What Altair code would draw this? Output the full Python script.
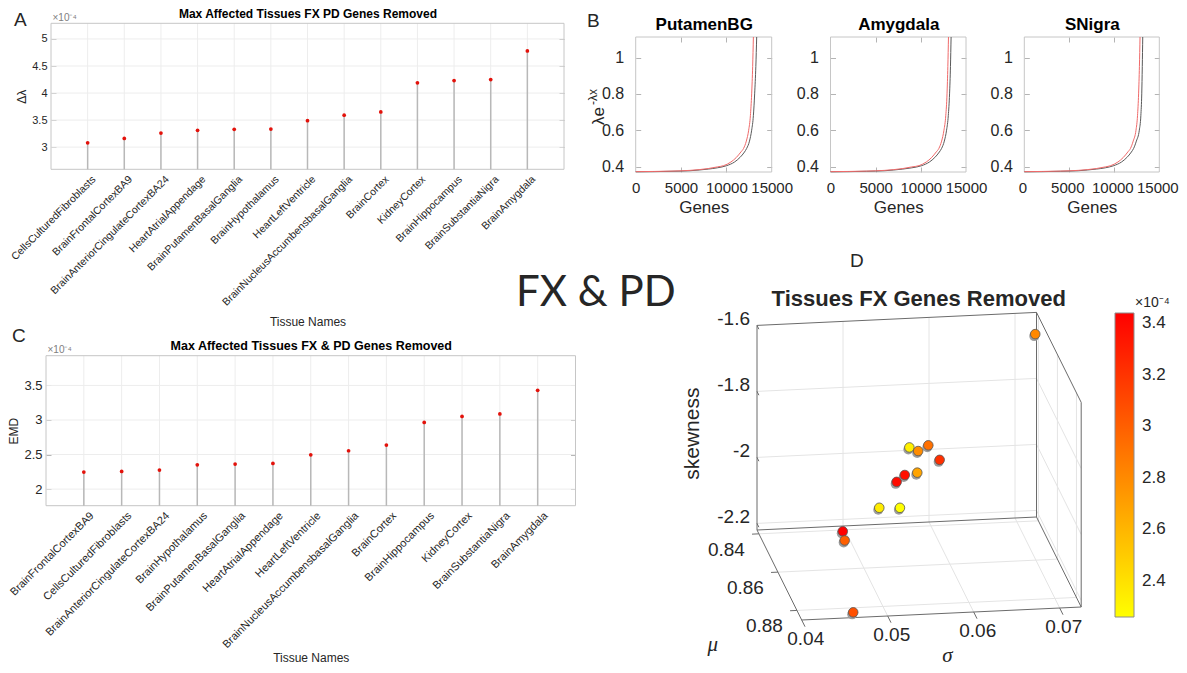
import altair as alt
import pandas as pd

W, H = 1171, 657
FONT = "Liberation Sans"
TXT = "#262626"

# ---------------- Panel A: max affected tissues, FX PD genes removed ----------------
tissues_a = ["CellsCulturedFibroblasts", "BrainFrontalCortexBA9", "BrainAnteriorCingulateCortexBA24",
             "HeartAtrialAppendage", "BrainPutamenBasalGanglia", "BrainHypothalamus", "HeartLeftVentricle",
             "BrainNucleusAccumbensbasalGanglia", "BrainCortex", "KidneyCortex", "BrainHippocampus",
             "BrainSubstantiaNigra", "BrainAmygdala"]
dlambda_a = [3.08, 3.16, 3.26, 3.31, 3.33, 3.335, 3.49, 3.59, 3.65, 4.19, 4.23, 4.25, 4.78]
a_yticks = [3, 3.5, 4, 4.5, 5]
a_ylim = [2.59, 5.29]

# ---------------- Panel C: max affected tissues, FX & PD genes removed ----------------
tissues_c = ["BrainFrontalCortexBA9", "CellsCulturedFibroblasts", "BrainAnteriorCingulateCortexBA24",
             "BrainHypothalamus", "BrainPutamenBasalGanglia", "HeartAtrialAppendage", "HeartLeftVentricle",
             "BrainNucleusAccumbensbasalGanglia", "BrainCortex", "BrainHippocampus", "KidneyCortex",
             "BrainSubstantiaNigra", "BrainAmygdala"]
emd_c = [2.246, 2.255, 2.275, 2.352, 2.362, 2.371, 2.497, 2.555, 2.638, 2.964, 3.052, 3.087, 3.429]
c_yticks = [2, 2.5, 3, 3.5]
c_ylim = [1.76, 3.93]

# ---------------- Panel B: fitted curves per tissue ----------------
b_names = ["PutamenBG", "Amygdala", "SNigra"]
b_xticks = [0, 5000, 10000, 15000]
b_yticks = [0.4, 0.6, 0.8, 1]
b_xlim = [0, 15000]
b_ylim = [0.37, 1.113]
curve_y_red = [0.372, 0.373, 0.375, 0.379, 0.383, 0.389, 0.398, 0.405, 0.425, 0.45, 0.48, 0.50, 0.54, 0.60, 0.68, 0.80, 0.95, 1.113]
curve_y_blk = [0.371, 0.372, 0.374, 0.377, 0.381, 0.386, 0.393, 0.405, 0.425, 0.45, 0.48, 0.50, 0.54, 0.60, 0.68, 0.80, 0.95, 1.113]
put_red_x = [0, 2000, 4000, 6000, 7000, 8000, 9000, 9700, 10500, 11100, 11600, 11900, 12200, 12460, 12650, 12790, 12900, 12980]
put_blk_x = [0, 2000, 4000, 6000, 7000, 8000, 9000, 10040, 10900, 11500, 12000, 12240, 12550, 12790, 12980, 13120, 13250, 13345]
amy_red_x = [0, 2000, 4000, 6000, 7000, 8000, 9000, 9800, 10600, 11200, 11700, 12000, 12300, 12560, 12760, 12900, 12990, 13060]
amy_blk_x = [0, 2000, 4000, 6000, 7000, 8000, 9000, 10100, 10950, 11550, 12050, 12300, 12600, 12850, 13040, 13180, 13280, 13350]
sni_red_x = [0, 2000, 4000, 6000, 7000, 8000, 9000, 9600, 10400, 11000, 11500, 11800, 12100, 12410, 12580, 12700, 12790, 12860]
sni_blk_x = [0, 2000, 4000, 6000, 7000, 8000, 9000, 9950, 10800, 11400, 11900, 12150, 12450, 12780, 12950, 13050, 13110, 13160]

# ---------------- Panel D: tissues FX genes removed (3-D scatter) ----------------
sigma_d = [0.0721, 0.0571, 0.0578, 0.0595, 0.0601, 0.0576, 0.0564, 0.0552, 0.0537, 0.0561, 0.0493, 0.0490, 0.0461]
mu_d = [0.8403, 0.8436, 0.8465, 0.8418, 0.8483, 0.8474, 0.8451, 0.8474, 0.8427, 0.8427, 0.8441, 0.8488, 0.8840]
skew_d = [-1.652, -1.958, -1.953, -1.965, -1.972, -2.013, -2.032, -2.038, -2.142, -2.145, -2.200, -2.200, -2.210]
emd_d = [2.81, 2.33, 2.79, 2.92, 3.22, 2.68, 3.37, 3.39, 2.35, 2.26, 3.44, 3.00, 3.07]
sig_ticks = [0.04, 0.05, 0.06, 0.07]
mu_ticks = [0.84, 0.86, 0.88]
skew_ticks = [-2.2, -2.0, -1.8, -1.6]
sig_lim = [0.04, 0.0725]
mu_lim = [0.838, 0.885]
skew_lim = [-2.22, -1.6]
cbar_lim = [2.26, 3.44]
cbar_ticks = [2.4, 2.6, 2.8, 3.0, 3.2, 3.4]

# ---------------- layout (plot-area pixel ranges) ----------------
A_X, A_Y = [43, 556], [161.3, 15.3]
C_X, C_Y = [38, 567.5], [497.7, 347.7]
B_X = [[627.7, 763.7], [822.5, 958.0], [1016.3, 1151.3]]
B_Y = [164, 29]
B_LABEL_SHIFT = [0, 0, -2]


def sc(dom, rng):
    return alt.Scale(domain=dom, range=rng, nice=False, zero=False)


def tick_axis(orient, offset, vals, color, size=5):
    if vals is None:
        return None
    return alt.Axis(orient=orient, offset=offset, values=vals, labels=False, domain=False, grid=False,
                    ticks=True, tickSize=size, tickColor=color, tickWidth=1, title=None)


def inner_ticks(box, xs, ys, xr, yr, xvals, yvals, color):
    """MATLAB-style inward ticks on all four sides, drawn by axes placed on the opposite edges."""
    l1 = alt.Chart(box).mark_rect(opacity=0).encode(
        x=alt.X("x0:Q", scale=xs, axis=tick_axis("bottom", yr[1] - H, xvals, color)), x2="x1:Q",
        y=alt.Y("y0:Q", scale=ys, axis=tick_axis("left", -xr[1], yvals, color)), y2="y1:Q")
    l2 = alt.Chart(box).mark_rect(opacity=0).encode(
        x=alt.X("x0:Q", scale=xs, axis=tick_axis("top", -yr[0], xvals, color)), x2="x1:Q",
        y=alt.Y("y0:Q", scale=ys, axis=tick_axis("right", xr[0] - W, yvals, color)), y2="y1:Q")
    return [l1, l2]


def stem_panel(tissues, vals, yticks, ylim, xr, yr, title, ytitle, fs_lab, lab_off, fs_tick, fs_title, xt_pad):
    n = len(tissues)
    xdom = [0, n + 1]
    xs, ys = sc(xdom, xr), sc(ylim, yr)
    idx = list(range(1, n + 1))
    df = pd.DataFrame({"idx": idx, "tissue": tissues, "val": vals, "lo": ylim[0], "hi": ylim[1]})
    hg = pd.DataFrame({"y": yticks, "x0": xdom[0], "x1": xdom[1]})
    box = pd.DataFrame({"x0": [xdom[0]], "x1": [xdom[1]], "y0": [ylim[0]], "y1": [ylim[1]]})
    names = "[" + ",".join("'%s'" % t for t in tissues) + "]"
    vgrid = alt.Chart(df).mark_rule(color="#ededed", strokeWidth=1).encode(
        x=alt.X("idx:Q", scale=xs, axis=None), y=alt.Y("lo:Q", scale=ys, axis=None), y2="hi:Q")
    hgrid = alt.Chart(hg).mark_rule(color="#ededed", strokeWidth=1).encode(
        x=alt.X("x0:Q", scale=xs, axis=None), x2="x1:Q", y=alt.Y("y:Q", scale=ys, axis=None))
    frame = alt.Chart(box).mark_rect(fillOpacity=0, stroke="#c6c6c6", strokeWidth=1).encode(
        x=alt.X("x0:Q", scale=xs, axis=alt.Axis(
            orient="top", offset=-yr[1], labels=False, ticks=False, domain=False, grid=False,
            title=title, titleFontSize=fs_title, titleFontWeight="bold", titleColor="black",
            titleFont=FONT, titlePadding=3)),
        x2="x1:Q",
        y=alt.Y("y0:Q", scale=ys, axis=alt.Axis(
            orient="left", offset=-xr[0], labels=False, ticks=False, domain=False, grid=False,
            title="×10⁻⁴", titleAngle=0, titleAlign="left", titleBaseline="alphabetic",
            titleX=1, titleY=yr[1] - 3, titleFontSize=10, titleFontWeight="normal",
            titleColor="#808080", titleFont=FONT)),
        y2="y1:Q")
    stems = alt.Chart(df).mark_rule(color="#b8b8b8", strokeWidth=1.5).encode(
        x=alt.X("idx:Q", scale=xs, axis=None), y=alt.Y("lo:Q", scale=ys, axis=None), y2="val:Q")
    dots = alt.Chart(df).mark_circle(color="#e3120b", size=14, opacity=1).encode(
        x=alt.X("idx:Q", scale=xs, axis=alt.Axis(
            orient="bottom", offset=yr[0] - H, values=idx, labelExpr=names + "[datum.value - 1]",
            labelAngle=-45, labelAlign="right", labelBaseline="middle", labelFontSize=fs_lab,
            labelFont=FONT, labelColor=TXT, labelPadding=8, labelOffset=lab_off, labelOverlap=False,
            labelFlush=False, labelLimit=1000, ticks=False, domain=False, grid=False,
            title="Tissue Names", titleFontSize=12, titleFontWeight="normal", titleColor=TXT,
            titleFont=FONT, titlePadding=xt_pad)),
        y=alt.Y("val:Q", scale=ys, axis=alt.Axis(
            orient="left", offset=-xr[0], values=yticks, format="~g", labelFontSize=fs_tick,
            labelFont=FONT, labelColor=TXT, labelPadding=4, ticks=False, domain=False, grid=False,
            title=ytitle, titleFontSize=12, titleFontWeight="normal", titleColor=TXT,
            titleFont=FONT, titlePadding=3)))
    ticks = inner_ticks(box, xs, ys, xr, yr, None, yticks, "#b4b4b4")
    return [vgrid, hgrid, frame] + ticks + [stems, dots]


def b_panel(name, rx, ry, bx, by, xr, yr, lab_shift):
    xs, ys = sc(b_xlim, xr), sc(b_ylim, yr)
    box = pd.DataFrame({"x0": [b_xlim[0]], "x1": [b_xlim[1]], "y0": [b_ylim[0]], "y1": [b_ylim[1]]})
    frame = alt.Chart(box).mark_rect(fillOpacity=0, stroke="#c6c6c6", strokeWidth=1).encode(
        x=alt.X("x0:Q", scale=xs, axis=alt.Axis(
            orient="top", offset=-yr[1], labels=False, ticks=False, domain=False, grid=False,
            title=name, titleFontSize=17, titleFontWeight="bold", titleColor="black",
            titleFont=FONT, titlePadding=4)),
        x2="x1:Q", y=alt.Y("y0:Q", scale=ys, axis=None), y2="y1:Q")
    blk = alt.Chart(pd.DataFrame({"g": bx, "f": by})).mark_line(
        color="#5a5a5a", strokeWidth=1, interpolate="monotone").encode(
        x=alt.X("g:Q", scale=xs, axis=alt.Axis(
            orient="bottom", offset=yr[0] - H, values=b_xticks, format="d", labelFontSize=15,
            labelFont=FONT, labelColor=TXT, labelPadding=8, labelOverlap=False, labelFlush=False,
            labelOffset=lab_shift, ticks=False, domain=False, grid=False, title="Genes",
            titleFontSize=17, titleFontWeight="normal", titleColor=TXT, titleFont=FONT,
            titlePadding=4)),
        y=alt.Y("f:Q", scale=ys, axis=alt.Axis(
            orient="left", offset=-xr[0], values=b_yticks, format="~g", labelFontSize=16,
            labelFont=FONT, labelColor=TXT, labelPadding=12, labelOverlap=False, ticks=False,
            domain=False, grid=False, title=None)))
    red = alt.Chart(pd.DataFrame({"g": rx, "f": ry})).mark_line(
        color="#f06a6a", strokeWidth=1, interpolate="monotone").encode(
        x=alt.X("g:Q", scale=xs, axis=None), y=alt.Y("f:Q", scale=ys, axis=None))
    ticks = inner_ticks(box, xs, ys, xr, yr, b_xticks[1:-1], b_yticks, "#b4b4b4")
    return [frame] + ticks + [blk, red]


# ---------------- 3-D projection for panel D ----------------
def proj(s, m, k):
    a = (s - sig_lim[0]) / (sig_lim[1] - sig_lim[0])
    b = (m - mu_lim[0]) / (mu_lim[1] - mu_lim[0])
    c = (k - skew_lim[0]) / (skew_lim[1] - skew_lim[0])
    return a * 279.5 + b * 44.7, a * 13 - b * 90 + c * 204.6


D_XS = sc([0, 400], [749, 1149])
D_YS = sc([0, 400], [522, 122])


def seg_df(pairs):
    rows = []
    for p, q in pairs:
        u1, v1 = proj(*p)
        u2, v2 = proj(*q)
        rows.append({"u1": u1, "v1": v1, "u2": u2, "v2": v2})
    return pd.DataFrame(rows)


def seg_layer(pairs, color, width):
    return alt.Chart(seg_df(pairs)).mark_rule(color=color, strokeWidth=width).encode(
        x=alt.X("u1:Q", scale=D_XS, axis=None), y=alt.Y("v1:Q", scale=D_YS, axis=None),
        x2="u2:Q", y2="v2:Q")


S0, S1 = sig_lim
M0, M1 = mu_lim
K0, K1 = skew_lim
grid_pairs = []
for s in sig_ticks[1:]:
    grid_pairs.append(((s, M0, K0), (s, M0, K1)))
    grid_pairs.append(((s, M0, K0), (s, M1, K0)))
for k in skew_ticks[:-1]:
    grid_pairs.append(((S0, M0, k), (S1, M0, k)))
    grid_pairs.append(((S1, M0, k), (S1, M1, k)))
for m in mu_ticks:
    grid_pairs.append(((S0, m, K0), (S1, m, K0)))
    grid_pairs.append(((S1, m, K0), (S1, m, K1)))
box_pairs = [((S0, M0, K0), (S1, M0, K0)), ((S0, M0, K1), (S1, M0, K1)),
             ((S0, M0, K0), (S0, M0, K1)), ((S1, M0, K0), (S1, M0, K1)),
             ((S0, M0, K0), (S0, M1, K0)), ((S0, M1, K0), (S1, M1, K0)),
             ((S1, M0, K0), (S1, M1, K0)), ((S1, M0, K1), (S1, M1, K1)),
             ((S1, M1, K0), (S1, M1, K1))]
tick_pairs = ([((s, M1, K0), (s, M1 + 0.0035, K0)) for s in sig_ticks] +
              [((S0, m, K0), (S0 - 0.0008, m, K0)) for m in mu_ticks] +
              [((S0, M0, k), (S0, M0 + 0.002, k)) for k in skew_ticks])


def label_layer(points, texts, dx, dy, align, size, angle=0, style="normal", font=FONT, weight="normal"):
    rows = []
    for p, t in zip(points, texts):
        u, v = proj(*p)
        rows.append({"u": u, "v": v, "t": t})
    return alt.Chart(pd.DataFrame(rows)).mark_text(
        dx=dx, dy=dy, align=align, baseline="middle", fontSize=size, font=font, color=TXT,
        angle=angle, fontStyle=style, fontWeight=weight).encode(
        x=alt.X("u:Q", scale=D_XS, axis=None), y=alt.Y("v:Q", scale=D_YS, axis=None), text="t:N")


pts = []
for s, m, k, e in zip(sigma_d, mu_d, skew_d, emd_d):
    u, v = proj(s, m, k)
    pts.append({"sigma": s, "mu": m, "skew": k, "emd": e, "u": u, "v": v})
pts = pd.DataFrame(pts)

d_layers = [
    seg_layer(grid_pairs, "#e4e4e4", 1),
    seg_layer(box_pairs, "#6b6b6b", 1),
    seg_layer(tick_pairs, "#6b6b6b", 1),
    label_layer([(s, M1, K0) for s in sig_ticks], ["%.2f" % s for s in sig_ticks], 4, 19, "center", 19),
    label_layer([(S0, m, K0) for m in mu_ticks], ["%.2f" % m for m in mu_ticks], -14, 16, "right", 19),
    label_layer([(S0, M0, k) for k in skew_ticks], ["%g" % k for k in skew_ticks], -7, -6, "right", 19),
    # rotated text: dx runs along the (upward) reading direction, dy points right on screen
    label_layer([(S0, M0, (K0 + K1) / 2)], ["skewness"], -6, -64, "center", 21, angle=270),
    label_layer([(S0, M1, K0)], ["μ"], -89, 25, "center", 21, style="italic", font="Liberation Serif"),
    label_layer([((S0 + S1) / 2, M1, K0)], ["σ"], 6, 42, "center", 21, style="italic", font="Liberation Serif"),
    label_layer([((S0 + S1) / 2, M0, K1)], ["Tissues FX Genes Removed"], 22, -20, "center", 22, weight="bold"),
    alt.Chart(pts).mark_circle(size=100, color="#9d9d9d", opacity=1, xOffset=-1, yOffset=2).encode(
        x=alt.X("u:Q", scale=D_XS, axis=None), y=alt.Y("v:Q", scale=D_YS, axis=None)),
    alt.Chart(pts).mark_circle(size=92, opacity=1, stroke="#555555", strokeWidth=0.8).encode(
        x=alt.X("u:Q", scale=D_XS, axis=None), y=alt.Y("v:Q", scale=D_YS, axis=None),
        color=alt.Color("emd:Q", scale=alt.Scale(domain=cbar_lim, range=["#ffff00", "#ff0000"], interpolate="rgb"),
                        legend=alt.Legend(orient="none", legendX=1107, legendY=305, direction="vertical",
                                          gradientLength=304, gradientThickness=19, title=None,
                                          values=cbar_ticks, format="~g", labelFontSize=17, labelFont=FONT,
                                          labelColor=TXT, labelOffset=8, labelOverlap=False, padding=0,
                                          gradientStrokeColor="#8c8c8c", gradientStrokeWidth=1)),
        tooltip=["sigma:Q", "mu:Q", "skew:Q", "emd:Q"]),
]


def note(txt, x, y, size, font=FONT, align="left", angle=0, color=TXT, weight="normal"):
    return alt.Chart(pd.DataFrame({"t": [txt]})).mark_text(
        align=align, baseline="alphabetic", fontSize=size, font=font, color=color, angle=angle,
        fontWeight=weight).encode(x=alt.value(x), y=alt.value(y), text="t:N")


notes = [
    note("A", 6, 18, 19), note("B", 579, 18.5, 19), note("C", 4, 334, 19), note("D", 842, 259, 19),
    note("FX & PD", 508, 298, 42, font="Lato"),
    note("λe", 596, 117, 17, angle=270),
    note("-λx", 589, 97, 12, angle=270),
    note("×10⁻⁴", 1127, 299, 14),
]

layers = []
layers += stem_panel(tissues_a, dlambda_a, a_yticks, a_ylim, A_X, A_Y,
                     "Max Affected Tissues FX PD Genes Removed", "Δλ", 10.5, 6, 11, 12, 9)
layers += stem_panel(tissues_c, emd_c, c_yticks, c_ylim, C_X, C_Y,
                     "Max Affected Tissues FX & PD Genes Removed", "EMD", 11, 8, 13, 12.5, 3)
b_curves = [(put_red_x, put_blk_x), (amy_red_x, amy_blk_x), (sni_red_x, sni_blk_x)]
for name, (rx, bx), xr, shift in zip(b_names, b_curves, B_X, B_LABEL_SHIFT):
    layers += b_panel(name, rx, curve_y_red, bx, curve_y_blk, xr, B_Y, shift)
layers += d_layers
layers += notes

chart = alt.layer(*layers).resolve_scale(
    x="independent", y="independent", color="independent"
).properties(
    width=W, height=H, autosize=alt.AutoSizeParams(type="none"), padding=0, background="white"
).configure_view(stroke=None)

chart.save("out.html", embed_options={"renderer": "svg", "actions": False})
